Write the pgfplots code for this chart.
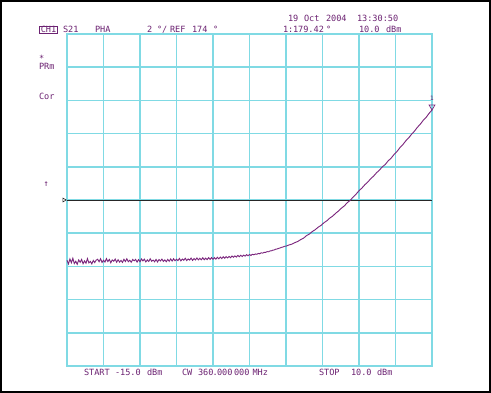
\documentclass[border=0pt]{standalone}
\usepackage{fontspec}
\usepackage{pgfplots}
\pgfplotsset{compat=1.18}
\usepackage{pgfplotstable}
\newfontfamily\hp{DejaVu Sans Mono}
\definecolor{gridc}{RGB}{128,218,228}
\definecolor{trace}{RGB}{122,36,124}
\definecolor{txt}{RGB}{108,34,114}

\pgfplotstableread{
x y
-15.0 170.37
-14.9 170.15
-14.8 170.45
-14.7 170.22
-14.6 170.49
-14.5 170.17
-14.4 170.31
-14.3 170.13
-14.2 170.39
-14.1 170.25
-14.0 170.42
-13.9 170.16
-13.8 170.33
-13.7 170.19
-13.6 170.47
-13.5 170.21
-13.4 170.30
-13.3 170.15
-13.2 170.36
-13.1 170.23
-13.0 170.38
-12.9 170.43
-12.8 170.28
-12.7 170.46
-12.6 170.24
-12.5 170.37
-12.4 170.26
-12.3 170.47
-12.2 170.29
-12.1 170.42
-12.0 170.22
-11.9 170.39
-11.8 170.31
-11.7 170.44
-11.6 170.25
-11.5 170.40
-11.4 170.26
-11.3 170.36
-11.2 170.24
-11.1 170.43
-11.0 170.29
-10.9 170.46
-10.8 170.28
-10.7 170.37
-10.6 170.25
-10.5 170.42
-10.4 170.34
-10.3 170.42
-10.2 170.26
-10.1 170.41
-10.0 170.28
-9.9 170.45
-9.8 170.33
-9.7 170.44
-9.6 170.27
-9.5 170.39
-9.4 170.30
-9.3 170.46
-9.2 170.31
-9.1 170.38
-9.0 170.28
-8.9 170.42
-8.8 170.27
-8.7 170.41
-8.6 170.33
-8.5 170.44
-8.4 170.30
-8.3 170.39
-8.2 170.28
-8.1 170.42
-8.0 170.31
-7.9 170.45
-7.8 170.32
-7.7 170.46
-7.6 170.34
-7.5 170.43
-7.4 170.35
-7.3 170.48
-7.2 170.33
-7.1 170.44
-7.0 170.37
-6.9 170.49
-6.8 170.35
-6.7 170.45
-6.6 170.38
-6.5 170.50
-6.4 170.36
-6.3 170.47
-6.2 170.39
-6.1 170.51
-6.0 170.39
-5.9 170.49
-5.8 170.40
-5.7 170.52
-5.6 170.40
-5.5 170.50
-5.4 170.41
-5.3 170.53
-5.2 170.42
-5.1 170.53
-5.0 170.43
-4.9 170.53
-4.8 170.44
-4.7 170.55
-4.6 170.46
-4.5 170.56
-4.4 170.47
-4.3 170.58
-4.2 170.49
-4.1 170.59
-4.0 170.51
-3.9 170.60
-3.8 170.52
-3.7 170.63
-3.6 170.55
-3.5 170.63
-3.4 170.56
-3.3 170.66
-3.2 170.58
-3.1 170.67
-3.0 170.60
-2.9 170.68
-2.8 170.62
-2.7 170.71
-2.6 170.64
-2.5 170.72
-2.4 170.66
-2.3 170.73
-2.2 170.70
-2.1 170.75
-2.0 170.73
-1.9 170.78
-1.8 170.76
-1.7 170.82
-1.6 170.80
-1.5 170.85
-1.4 170.84
-1.3 170.89
-1.2 170.88
-1.1 170.93
-1.0 170.94
-0.9 170.98
-0.8 170.99
-0.7 171.04
-0.6 171.05
-0.5 171.09
-0.4 171.11
-0.3 171.15
-0.2 171.17
-0.1 171.21
0.0 171.22
0.2 171.29
0.4 171.34
0.6 171.43
0.8 171.50
1.0 171.61
1.2 171.70
1.4 171.85
1.6 171.95
1.8 172.10
2.0 172.21
2.2 172.36
2.4 172.47
2.6 172.63
2.8 172.75
3.0 172.91
3.2 173.03
3.4 173.20
3.6 173.34
3.8 173.51
4.0 173.65
4.2 173.84
4.4 173.98
4.6 174.18
4.8 174.35
5.0 174.56
5.2 174.72
5.4 174.92
5.6 175.08
5.8 175.28
6.0 175.44
6.2 175.64
6.4 175.80
6.6 176.00
6.8 176.14
7.0 176.36
7.2 176.52
7.4 176.74
7.6 176.92
7.8 177.15
8.0 177.33
8.2 177.56
8.4 177.74
8.6 177.96
8.8 178.15
9.0 178.38
9.2 178.57
9.4 178.80
9.6 178.98
9.8 179.22
10.0 179.42
}\tracedata

\newcommand\T[3]{\node[anchor=base west, inner sep=0pt, outer sep=0pt, text=txt] at (#1,{393-#2}) {#3};}

\begin{document}
\begin{tikzpicture}
\useasboundingbox (0,0) rectangle (491bp,393bp);
\fill[white] (0,0) rectangle (491bp,393bp);
\draw[black, line width=2bp] (1bp,1bp) rectangle (490bp,392bp);
\begin{axis}[
  at={(67bp,27bp)}, anchor=south west,
  scale only axis, width=365bp, height=332bp,
  xmin=-15, xmax=10, ymin=164, ymax=184,
  xtick={-15,-12.5,-10,-7.5,-5,-2.5,0,2.5,5,7.5,10},
  ytick={164,166,168,170,172,174,176,178,180,182,184},
  xticklabels={}, yticklabels={},
  major tick length=0pt,
  grid=major,
  grid style={gridc, line width=1.5bp},
  axis line style={gridc, line width=1.5bp},
  clip=false,
]
\addplot[black!85, line width=0.9bp, mark=none] coordinates {(-15,174) (10,174)};
\addplot[black!85, line width=0.6bp, only marks, mark=triangle, mark size=2.2bp,
  mark options={xshift=-3bp, rotate=-90}] coordinates {(-15,174)};
\addplot[trace, line width=0.9bp, mark=none] table[x=x, y=y] {\tracedata};
\addplot[trace, line width=0.7bp, only marks, mark=triangle, mark size=3.4bp,
  mark options={yshift=3.4bp, rotate=180}] coordinates {(10,179.42)};
\node[anchor=base, inner sep=0pt, text=txt, font=\hp\fontsize{6}{7}\selectfont] at (axis cs:10,179.42) [yshift=9.5bp] {1};
\end{axis}
\begin{scope}[x=1bp, y=1bp, font=\hp\fontsize{8.6}{10}\selectfont]
\draw[txt, line width=0.8bp] (39,{393-33}) rectangle (57.3,{393-26});
\T{40.8}{32.3}{CH1}
\T{63}{32.5}{S21}
\T{95}{32.5}{PHA}
\T{147}{32.5}{2}
\T{157}{32.5}{°/}
\T{170}{32.5}{REF}
\T{192}{32.5}{174}
\T{213}{32.5}{°}
\T{288}{21}{19}
\T{304}{21}{Oct}
\T{326}{21}{2004}
\T{357}{21}{13:30:50}
\T{283}{32.5}{1:}
\T{293}{32.5}{179.42}
\T{326}{32.5}{°}
\T{359}{32.5}{10.0}
\T{386}{32.5}{dBm}
\T{39}{61.5}{*}
\T{39}{69.5}{PRm}
\T{39}{99}{Cor}
\T{43.5}{186.5}{↑}
\T{84}{375}{START}
\T{115}{375}{-15.0}
\T{147}{375}{dBm}
\T{182}{375}{CW}
\T{198}{375}{360}
\T{212.5}{375}{.}
\T{217}{375}{000}
\T{234}{375}{000}
\T{252.5}{375}{MHz}
\T{319}{375}{STOP}
\T{351}{375}{10.0}
\T{377}{375}{dBm}
\end{scope}
\end{tikzpicture}
\end{document}
